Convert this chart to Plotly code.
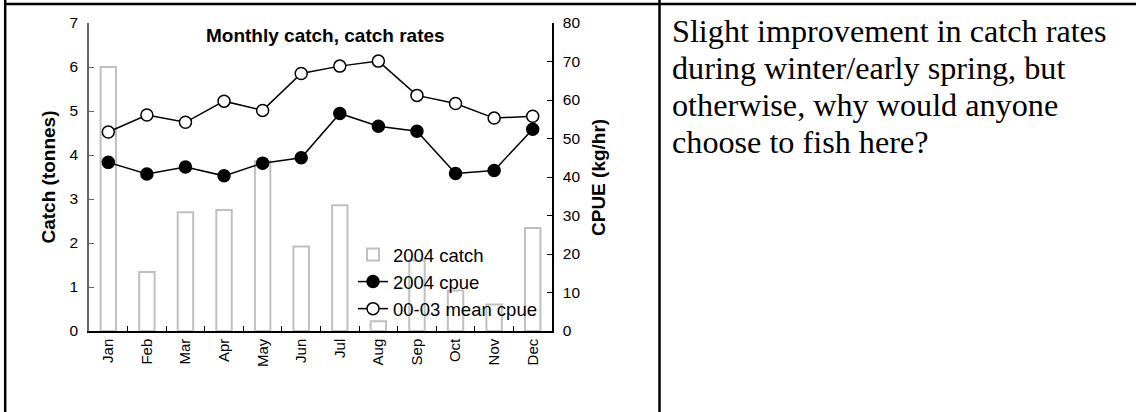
import plotly.graph_objects as go

months = ["Jan", "Feb", "Mar", "Apr", "May", "Jun", "Jul", "Aug", "Sep", "Oct", "Nov", "Dec"]
catch_2004 = [6.0, 1.34, 2.70, 2.75, 3.86, 1.92, 2.86, 0.22, 1.60, 0.92, 0.60, 2.34]
cpue_2004 = [43.8, 40.8, 42.6, 40.3, 43.6, 45.0, 56.5, 53.2, 51.9, 40.9, 41.7, 52.4]
cpue_mean_00_03 = [51.7, 56.1, 54.2, 59.7, 57.3, 66.9, 68.8, 70.1, 61.2, 59.1, 55.3, 55.8]
left_ticks = [0, 1, 2, 3, 4, 5, 6, 7]
right_ticks = [0, 10, 20, 30, 40, 50, 60, 70, 80]
comment_lines = [
    "Slight improvement in catch rates",
    "during winter/early spring, but",
    "otherwise, why would anyone",
    "choose to fish here?",
]

W, H = 1136, 412
L, R, T, B = 89, 552, 23, 331


def px(x):
    return (x - L) / (R - L)


def py(y):
    return (B - y) / (B - T)


FONT = "Liberation Sans, Arial, sans-serif"
SERIF = "Liberation Serif, Times New Roman, serif"

fig = go.Figure()
fig.add_trace(go.Bar(
    x=months, y=catch_2004, name="2004 catch", width=0.4,
    marker=dict(color="white", line=dict(color="#c0c0c0", width=2)),
    yaxis="y",
))
fig.add_trace(go.Scatter(
    x=months, y=cpue_2004, name="2004 cpue", mode="lines+markers",
    line=dict(color="black", width=1.5),
    marker=dict(color="black", size=12, line=dict(color="black", width=1.5)),
    yaxis="y2",
))
fig.add_trace(go.Scatter(
    x=months, y=cpue_mean_00_03, name="00-03 mean cpue", mode="lines+markers",
    line=dict(color="black", width=1.5),
    marker=dict(color="white", size=12, line=dict(color="black", width=1.5)),
    yaxis="y2",
))

fig.update_layout(
    width=W, height=H,
    margin=dict(l=L, r=W - R, t=T, b=H - B, autoexpand=False),
    paper_bgcolor="white", plot_bgcolor="white",
    font=dict(family=FONT, color="black", size=15),
    showlegend=True,
    legend=dict(
        x=px(353), y=py(236), xanchor="left", yanchor="top",
        bgcolor="rgba(0,0,0,0)", font=dict(size=18.5, family=FONT),
        tracegroupgap=0, itemwidth=30,
    ),
    xaxis=dict(
        type="category", tickson="boundaries", ticks="inside", ticklen=5,
        tickcolor="black", showline=True, linecolor="black", linewidth=1.5,
        tickangle=-90, tickfont=dict(size=15), showgrid=False, zeroline=False,
        range=[-0.5, 11.5], fixedrange=True,
    ),
    yaxis=dict(
        range=[0, 7], tickvals=left_ticks, ticks="inside", ticklen=5,
        tickcolor="#666666", showline=True, linecolor="#666666", linewidth=1.5,
        showgrid=False, zeroline=False, tickfont=dict(size=15.5),
        ticklabelstandoff=6,
    ),
    yaxis2=dict(
        range=[0, 80], tickvals=right_ticks, ticks="inside", ticklen=5,
        tickcolor="black", showline=True, linecolor="black", linewidth=1.5,
        overlaying="y", side="right", showgrid=False, zeroline=False,
        tickfont=dict(size=15.5), ticklabelstandoff=6,
    ),
    bargap=0.6,
)

annotations = [
    dict(text="<b>Monthly catch, catch rates</b>", x=px(325), y=py(35),
         font=dict(size=19, family=FONT), xanchor="center", yanchor="middle"),
    dict(text="<b>Catch (tonnes)</b>", x=px(47.5), y=py(177), textangle=-90,
         font=dict(size=19, family=FONT), xanchor="center", yanchor="middle"),
    dict(text="<b>CPUE (kg/hr)</b>", x=px(598.5), y=py(177.5), textangle=-90,
         font=dict(size=19, family=FONT), xanchor="center", yanchor="middle"),
]
centers = [31, 68, 105, 142]
for line, c in zip(comment_lines, centers):
    annotations.append(dict(
        text=line, x=px(670), y=py(c), xanchor="left", yanchor="middle",
        align="left", font=dict(size=32.2, family=SERIF, color="black"),
    ))
for a in annotations:
    a.update(xref="paper", yref="paper", showarrow=False)
fig.update_layout(annotations=annotations)

shapes = [
    dict(type="line", x0=px(5.2), x1=px(5.2), y0=py(0), y1=py(412)),
    dict(type="line", x0=px(4), x1=px(1136), y0=py(4), y1=py(4)),
    dict(type="line", x0=px(659.5), x1=px(659.5), y0=py(0), y1=py(412)),
]
for s in shapes:
    s.update(xref="paper", yref="paper", line=dict(color="black", width=2.5))
fig.update_layout(shapes=shapes)

fig.write_html(
    "out.html",
    config={"displayModeBar": False},
    post_script="document.body.style.margin='0';document.body.style.overflow='hidden';",
)
